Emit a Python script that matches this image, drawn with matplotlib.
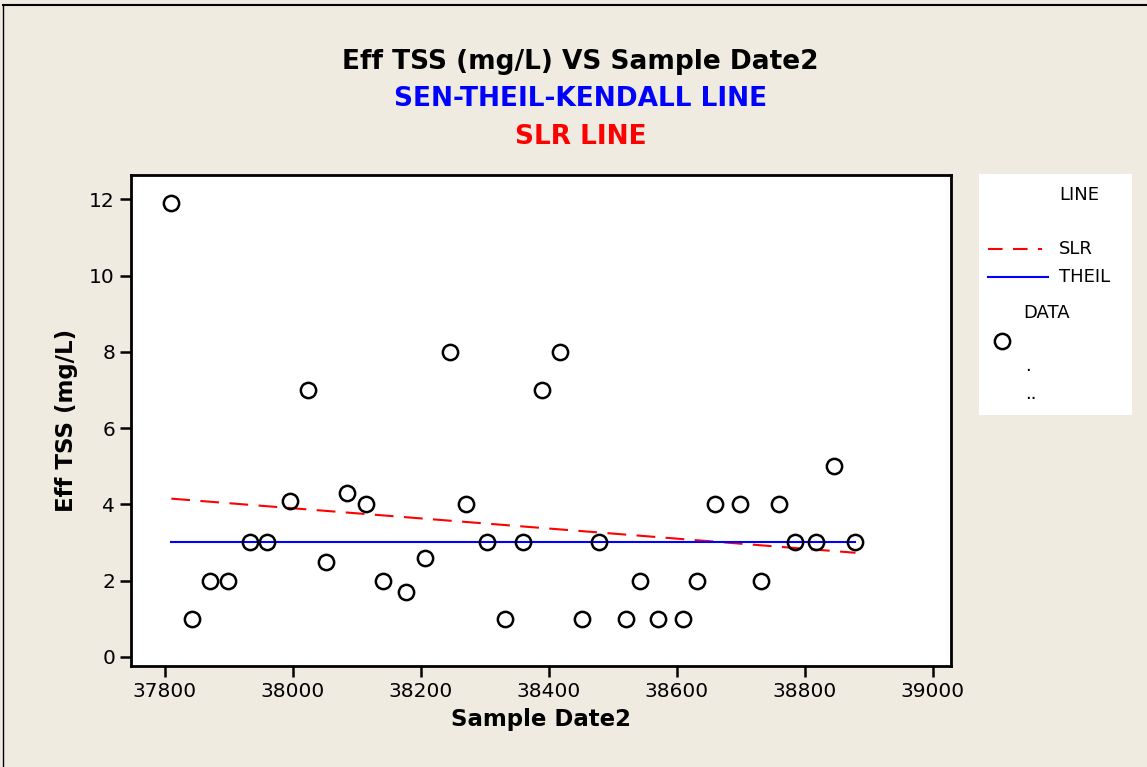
import numpy as np
import matplotlib
matplotlib.use("Agg")
import matplotlib.pyplot as plt
from matplotlib.lines import Line2D

# data
sample_date = [37810, 37842, 37870, 37898, 37933, 37960, 37995, 38023, 38051,
               38085, 38114, 38141, 38176, 38207, 38245, 38270, 38304, 38332,
               38360, 38389, 38417, 38451, 38479, 38520, 38542, 38570, 38610,
               38632, 38660, 38698, 38732, 38760, 38785, 38817, 38845, 38879]
eff_tss = [11.9, 1, 2, 2, 3, 3, 4.1, 7, 2.5,
           4.3, 4, 2, 1.7, 2.6, 8, 4, 3, 1,
           3, 7, 8, 1, 3, 1, 2, 1, 1,
           2, 4, 4, 2, 4, 3, 3, 5, 3]

line_x = [37810, 38879]
slr_y = [4.15, 2.73]
theil_y = [3.0, 3.0]

x_ticks = [37800, 38000, 38200, 38400, 38600, 38800, 39000]
y_ticks = [0, 2, 4, 6, 8, 10, 12]

bg = "#efebe1"
plt.rcParams['font.family'] = ['DejaVu Sans']

fig = plt.figure(figsize=(11.47, 7.67), dpi=100, facecolor=bg)

# outer frame (top and left edges)
fig.add_artist(Line2D([0.0026, 1], [0.9935, 0.9935], color="black", lw=1.5))
fig.add_artist(Line2D([0.0026, 0.0026], [0, 0.9935], color="black", lw=1))

ax = fig.add_axes([0.1142, 0.1317, 0.7148, 0.6401])
ax.set_facecolor("white")
ax.plot(line_x, slr_y, color="red", lw=1.5, dashes=(9, 5))
ax.plot(line_x, theil_y, color="blue", lw=1.5)
ax.plot(sample_date, eff_tss, ls="none", marker="o", ms=11,
        mfc="none", mec="black", mew=1.8)

ax.set_xlim(37747, 39028)
ax.set_ylim(-0.24, 12.64)
ax.set_xticks(x_ticks)
ax.set_yticks(y_ticks)
ax.tick_params(direction="out", length=8, width=1.8, labelsize=14.5)
for s in ax.spines.values():
    s.set_linewidth(2)

ax.set_xlabel("Sample Date2", fontsize=16.5, fontweight="bold", labelpad=5)
ax.set_ylabel("Eff TSS (mg/L)", fontsize=16.5, fontweight="bold", labelpad=8)

# titles
fig.text(0.506, 0.919, "Eff TSS (mg/L) VS Sample Date2", ha="center", va="center",
         fontsize=19, fontweight="bold", color="black")
fig.text(0.506, 0.871, "SEN-THEIL-KENDALL LINE", ha="center", va="center",
         fontsize=19, fontweight="bold", color="blue")
fig.text(0.506, 0.821, "SLR LINE", ha="center", va="center",
         fontsize=19, fontweight="bold", color="red")

# legend panel
lg = fig.add_axes([979 / 1147, 1 - 415 / 767, 153 / 1147, 241 / 767])
lg.set_facecolor("white")
lg.set_xlim(979, 1132)
lg.set_ylim(415, 174)
lg.set_xticks([])
lg.set_yticks([])
for s in lg.spines.values():
    s.set_visible(False)
lg.text(1059, 195, "LINE", fontsize=13, va="center")
lg.plot([988, 1042], [249, 249], color="red", lw=1.5, dashes=(7, 5))
lg.text(1059, 249, "SLR", fontsize=13, va="center")
lg.plot([988, 1048], [277, 277], color="blue", lw=1.5)
lg.text(1059, 277, "THEIL", fontsize=13, va="center")
lg.text(1023, 313, "DATA", fontsize=13, va="center")
lg.plot([1002], [341], marker="o", ms=11, mfc="none", mec="black", mew=1.8)
lg.text(1025, 366, ".", fontsize=13, va="center")
lg.text(1025, 394, "..", fontsize=13, va="center")

fig.savefig("out.png", dpi=100, facecolor=bg)
